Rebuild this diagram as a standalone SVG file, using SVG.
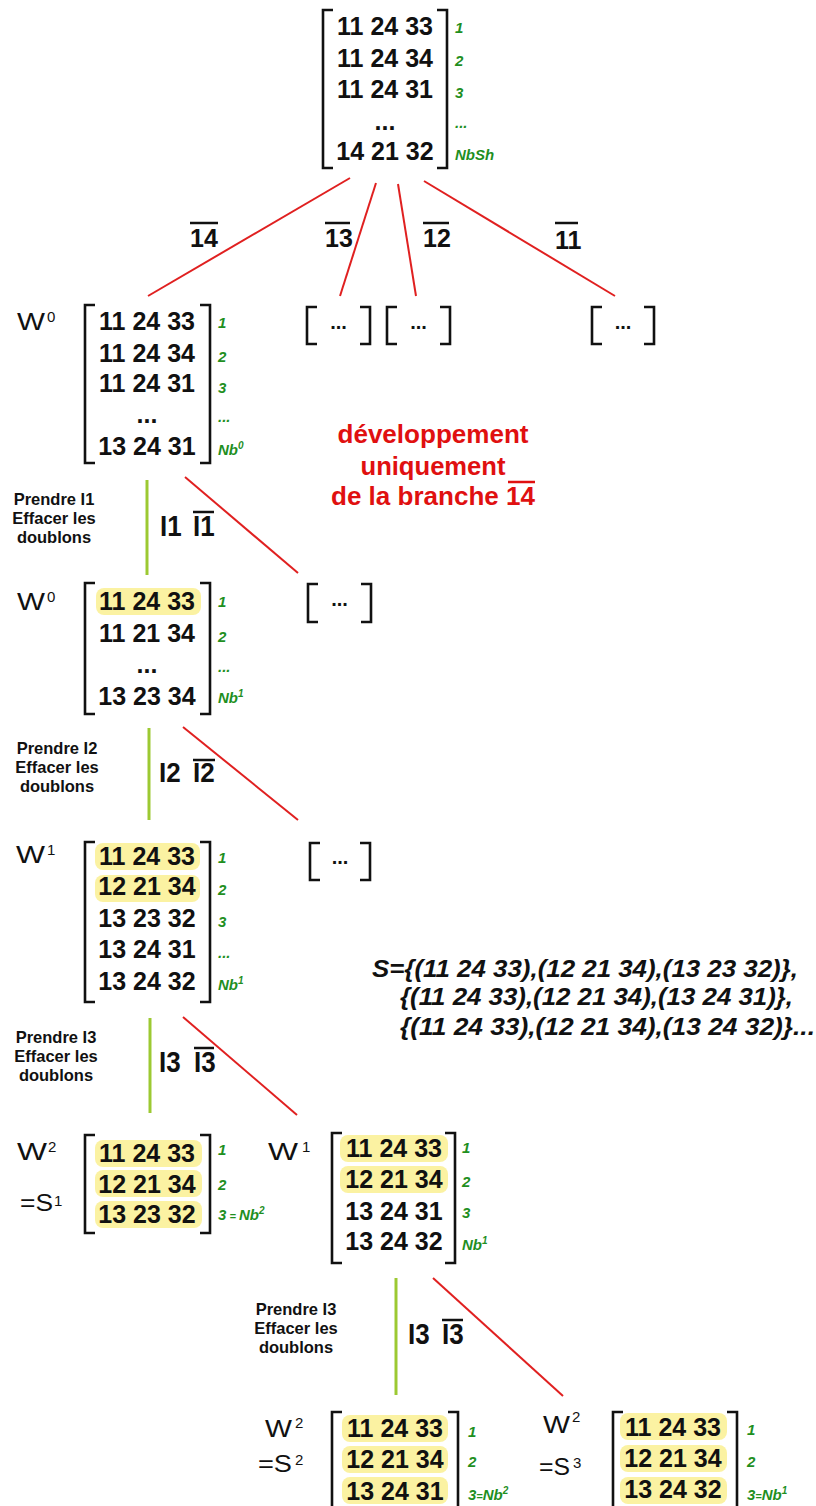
<svg xmlns="http://www.w3.org/2000/svg" width="816" height="1506" viewBox="0 0 816 1506">
<style>
.bg{fill:#fff}
.br{fill:none;stroke:#111;stroke-width:2.6}
.row{font-family:"Liberation Sans",Arial,sans-serif;font-weight:bold;font-size:25px;fill:#111;text-anchor:middle}
.gl{font-family:"Liberation Sans",Arial,sans-serif;font-weight:bold;font-style:italic;font-size:15px;fill:#1f8f1f}
.gs{font-size:10px}
.ge{font-size:11px}
.hl{fill:#fbf2a2}
.w{font-family:"Liberation Sans",Arial,sans-serif;font-size:23px;fill:#111}
.sup{font-family:"Liberation Sans",Arial,sans-serif;font-size:15px;fill:#111}
.pr{font-family:"Liberation Sans",Arial,sans-serif;font-weight:bold;font-size:16.5px;fill:#111;text-anchor:middle}
.op{font-family:"Liberation Sans",Arial,sans-serif;font-weight:bold;font-size:26px;fill:#111}
.lb{font-family:"Liberation Sans",Arial,sans-serif;font-weight:bold;font-size:25px;fill:#111}
.ov{stroke:#111;stroke-width:2.5}
.red{font-family:"Liberation Sans",Arial,sans-serif;font-weight:bold;font-size:25px;fill:#e01010;text-anchor:middle}
.st{font-family:"Liberation Sans",Arial,sans-serif;font-weight:bold;font-style:italic;font-size:23px;fill:#111}
.rl{stroke:#e02020;stroke-width:2;fill:none}
.gr{stroke:#9cc932;stroke-width:3;fill:none}
.dots{font-family:"Liberation Sans",Arial,sans-serif;font-weight:bold;font-size:20px;fill:#111;text-anchor:middle}
</style>
<rect class="bg" x="0" y="0" width="816" height="1506"/>

<g id="connectors">
  <line class="rl" x1="350" y1="178" x2="148" y2="296"/>
  <line class="rl" x1="376" y1="183" x2="340" y2="296"/>
  <line class="rl" x1="398" y1="184" x2="416" y2="296"/>
  <line class="rl" x1="424" y1="181" x2="615" y2="296"/>
  <line class="gr" x1="147" y1="480" x2="147" y2="575"/>
  <line class="rl" x1="185" y1="477" x2="298" y2="573"/>
  <line class="gr" x1="149" y1="728" x2="149" y2="820"/>
  <line class="rl" x1="183" y1="727" x2="298" y2="820"/>
  <line class="gr" x1="150" y1="1018" x2="150" y2="1113"/>
  <line class="rl" x1="183" y1="1017" x2="297" y2="1115"/>
  <line class="gr" x1="396" y1="1278" x2="396" y2="1395"/>
  <line class="rl" x1="433" y1="1278" x2="563" y2="1396"/>
</g>

<g id="edge-labels">
  <text class="lb" x="190" y="247">14</text><line class="ov" x1="190" y1="223" x2="218" y2="223"/>
  <text class="lb" x="325" y="247">13</text><line class="ov" x1="325" y1="223" x2="350" y2="223"/>
  <text class="lb" x="423" y="247">12</text><line class="ov" x1="423" y1="223" x2="449" y2="223"/>
  <text class="lb" x="555" y="249">11</text><line class="ov" x1="555" y1="223" x2="578" y2="223"/>

  <text class="pr" x="54" y="505">Prendre I1</text>
  <text class="pr" x="54" y="524">Effacer les</text>
  <text class="pr" x="54" y="543">doublons</text>
  <text class="op" transform="translate(160 536) scale(1 1.12)">I1</text>
  <text class="op" transform="translate(193 536) scale(1 1.12)">I1</text>
  <line class="ov" x1="193" y1="512" x2="214" y2="512"/>

  <text class="pr" x="57" y="754">Prendre I2</text>
  <text class="pr" x="57" y="773">Effacer les</text>
  <text class="pr" x="57" y="792">doublons</text>
  <text class="op" transform="translate(159 782) scale(1 1.05)">I2</text>
  <text class="op" transform="translate(193 782) scale(1 1.05)">I2</text>
  <line class="ov" x1="193" y1="760" x2="215" y2="760"/>

  <text class="pr" x="56" y="1043">Prendre I3</text>
  <text class="pr" x="56" y="1062">Effacer les</text>
  <text class="pr" x="56" y="1081">doublons</text>
  <text class="op" transform="translate(159 1072) scale(1 1.1)">I3</text>
  <text class="op" transform="translate(194 1072) scale(1 1.1)">I3</text>
  <line class="ov" x1="194" y1="1048" x2="214" y2="1048"/>

  <text class="pr" x="296" y="1315">Prendre I3</text>
  <text class="pr" x="296" y="1334">Effacer les</text>
  <text class="pr" x="296" y="1353">doublons</text>
  <text class="op" transform="translate(408 1344) scale(1 1.15)">I3</text>
  <text class="op" transform="translate(442 1344) scale(1 1.15)">I3</text>
  <line class="ov" x1="442" y1="1320" x2="463" y2="1320"/>
</g>

<g id="m-root">
  <path class="br" d="M333 10H323V168H333M437 10H447V168H437"/>
  <text class="row" x="385" y="35">11 24 33</text>
  <text class="row" x="385" y="67">11 24 34</text>
  <text class="row" x="385" y="98">11 24 31</text>
  <text class="row" x="385" y="130">...</text>
  <text class="row" x="385" y="160">14 21 32</text>
  <text class="gl" x="455" y="33">1</text>
  <text class="gl" x="455" y="66">2</text>
  <text class="gl" x="455" y="98">3</text>
  <text class="gl" x="455" y="128">...</text>
  <text class="gl" x="455" y="160" font-size="16">NbSh</text>
</g>

<g id="m-w0a">
  <text class="w" x="17" y="330" textLength="28" lengthAdjust="spacingAndGlyphs">W</text>
  <text class="sup" x="47" y="322">0</text>
  <path class="br" d="M95 305H85V463H95M200 305H210V463H200"/>
  <text class="row" x="147" y="330">11 24 33</text>
  <text class="row" x="147" y="362">11 24 34</text>
  <text class="row" x="147" y="392">11 24 31</text>
  <text class="row" x="147" y="423">...</text>
  <text class="row" x="147" y="455">13 24 31</text>
  <text class="gl" x="218" y="328">1</text>
  <text class="gl" x="218" y="362">2</text>
  <text class="gl" x="218" y="393">3</text>
  <text class="gl" x="218" y="422">...</text>
  <text class="gl" x="218" y="455">Nb<tspan class="gs" dy="-6">0</tspan></text>
</g>

<g id="b-13">
  <path class="br" d="M317 307H307V344H317M360 307H370V344H360"/>
  <text class="dots" x="338.5" y="329">...</text>
</g>
<g id="b-12">
  <path class="br" d="M397 307H387V344H397M440 307H450V344H440"/>
  <text class="dots" x="418.5" y="329">...</text>
</g>
<g id="b-11">
  <path class="br" d="M602 307H592V344H602M644 307H654V344H644"/>
  <text class="dots" x="623" y="329">...</text>
</g>

<g id="note">
  <text class="red" x="433" y="443" textLength="191" lengthAdjust="spacingAndGlyphs">développement</text>
  <text class="red" x="433" y="475" textLength="145" lengthAdjust="spacingAndGlyphs">uniquement</text>
  <text class="red" x="433" y="505" textLength="204" lengthAdjust="spacingAndGlyphs">de la branche 14</text>
  <line x1="508" y1="482" x2="535" y2="482" stroke="#e01010" stroke-width="2.5"/>
</g>

<g id="m-w0b">
  <text class="w" x="17" y="610" textLength="28" lengthAdjust="spacingAndGlyphs">W</text>
  <text class="sup" x="47" y="602">0</text>
  <path class="br" d="M95 583H85V714H95M200 583H210V714H200"/>
  <rect class="hl" x="96" y="588" width="105" height="27" rx="8"/>
  <text class="row" x="147" y="610">11 24 33</text>
  <text class="row" x="147" y="642">11 21 34</text>
  <text class="row" x="147" y="673">...</text>
  <text class="row" x="147" y="705">13 23 34</text>
  <text class="gl" x="218" y="607">1</text>
  <text class="gl" x="218" y="642">2</text>
  <text class="gl" x="218" y="672">...</text>
  <text class="gl" x="218" y="703">Nb<tspan class="gs" dy="-6">1</tspan></text>
</g>

<g id="b-i1">
  <path class="br" d="M318 584H308V622H318M361 584H371V622H361"/>
  <text class="dots" x="339.5" y="606">...</text>
</g>

<g id="m-w1">
  <text class="w" x="16" y="863" textLength="29" lengthAdjust="spacingAndGlyphs">W</text>
  <text class="sup" x="47" y="855">1</text>
  <path class="br" d="M95 842H85V1002H95M200 842H210V1002H200"/>
  <rect class="hl" x="95" y="843" width="105" height="27" rx="8"/>
  <rect class="hl" x="95" y="875" width="105" height="27" rx="8"/>
  <text class="row" x="147" y="865">11 24 33</text>
  <text class="row" x="147" y="895">12 21 34</text>
  <text class="row" x="147" y="927">13 23 32</text>
  <text class="row" x="147" y="958">13 24 31</text>
  <text class="row" x="147" y="990">13 24 32</text>
  <text class="gl" x="218" y="863">1</text>
  <text class="gl" x="218" y="895">2</text>
  <text class="gl" x="218" y="927">3</text>
  <text class="gl" x="218" y="958">...</text>
  <text class="gl" x="218" y="990">Nb<tspan class="gs" dy="-6">1</tspan></text>
</g>

<g id="b-i2">
  <path class="br" d="M320 843H310V880H320M360 843H370V880H360"/>
  <text class="dots" x="340" y="864">...</text>
</g>

<g id="solutions">
  <text class="st" x="372" y="977" textLength="426" lengthAdjust="spacingAndGlyphs">S={(11 24 33),(12 21 34),(13 23 32)},</text>
  <text class="st" x="400" y="1005" textLength="393" lengthAdjust="spacingAndGlyphs">{(11 24 33),(12 21 34),(13 24 31)},</text>
  <text class="st" x="400" y="1035" textLength="415" lengthAdjust="spacingAndGlyphs">{(11 24 33),(12 21 34),(13 24 32)}...</text>
</g>

<g id="m-w2-s1">
  <text class="w" x="17" y="1160" textLength="30" lengthAdjust="spacingAndGlyphs">W</text>
  <text class="sup" x="48" y="1152">2</text>
  <text class="w" x="20" y="1211" textLength="33" lengthAdjust="spacingAndGlyphs">=S</text>
  <text class="sup" x="54" y="1206">1</text>
  <path class="br" d="M95 1135H85V1233H95M200 1135H210V1233H200"/>
  <rect class="hl" x="95" y="1140" width="107" height="27" rx="8"/>
  <rect class="hl" x="95" y="1170" width="107" height="27" rx="8"/>
  <rect class="hl" x="95" y="1201" width="107" height="27" rx="8"/>
  <text class="row" x="147" y="1162">11 24 33</text>
  <text class="row" x="147" y="1193">12 21 34</text>
  <text class="row" x="147" y="1223">13 23 32</text>
  <text class="gl" x="218" y="1155">1</text>
  <text class="gl" x="218" y="1190">2</text>
  <text class="gl" x="218" y="1220">3<tspan class="ge"> = </tspan>Nb<tspan class="gs" dy="-6">2</tspan></text>
</g>

<g id="m-w1r">
  <text class="w" x="268" y="1160" textLength="30" lengthAdjust="spacingAndGlyphs">W</text>
  <text class="sup" x="302" y="1152">1</text>
  <path class="br" d="M342 1133H332V1263H342M445 1133H455V1263H445"/>
  <rect class="hl" x="340" y="1135" width="108" height="27" rx="8"/>
  <rect class="hl" x="340" y="1166" width="108" height="27" rx="8"/>
  <text class="row" x="394" y="1157">11 24 33</text>
  <text class="row" x="394" y="1188">12 21 34</text>
  <text class="row" x="394" y="1220">13 24 31</text>
  <text class="row" x="394" y="1250">13 24 32</text>
  <text class="gl" x="462" y="1153">1</text>
  <text class="gl" x="462" y="1187">2</text>
  <text class="gl" x="462" y="1218">3</text>
  <text class="gl" x="462" y="1250">Nb<tspan class="gs" dy="-6">1</tspan></text>
</g>

<g id="m-w2-s2">
  <text class="w" x="265" y="1437" textLength="27" lengthAdjust="spacingAndGlyphs">W</text>
  <text class="sup" x="295" y="1428">2</text>
  <text class="w" x="258" y="1472" textLength="34" lengthAdjust="spacingAndGlyphs">=S</text>
  <text class="sup" x="295" y="1465">2</text>
  <path class="br" d="M342 1412H332V1512H342M448 1412H458V1512H448"/>
  <rect class="hl" x="342" y="1415" width="106" height="27" rx="8"/>
  <rect class="hl" x="342" y="1446" width="106" height="27" rx="8"/>
  <rect class="hl" x="342" y="1477" width="106" height="27" rx="8"/>
  <text class="row" x="395" y="1437">11 24 33</text>
  <text class="row" x="395" y="1468">12 21 34</text>
  <text class="row" x="395" y="1500">13 24 31</text>
  <text class="gl" x="468" y="1437">1</text>
  <text class="gl" x="468" y="1467">2</text>
  <text class="gl" x="468" y="1500">3<tspan class="ge">=</tspan>Nb<tspan class="gs" dy="-6">2</tspan></text>
</g>

<g id="m-w2-s3">
  <text class="w" x="543" y="1433" textLength="27" lengthAdjust="spacingAndGlyphs">W</text>
  <text class="sup" x="572" y="1422">2</text>
  <text class="w" x="539" y="1475" textLength="31" lengthAdjust="spacingAndGlyphs">=S</text>
  <text class="sup" x="573" y="1468">3</text>
  <path class="br" d="M623 1412H613V1512H623M727 1412H737V1512H727"/>
  <rect class="hl" x="620" y="1413" width="107" height="27" rx="8"/>
  <rect class="hl" x="620" y="1445" width="107" height="27" rx="8"/>
  <rect class="hl" x="620" y="1477" width="107" height="27" rx="8"/>
  <text class="row" x="673" y="1436">11 24 33</text>
  <text class="row" x="673" y="1467">12 21 34</text>
  <text class="row" x="673" y="1498">13 24 32</text>
  <text class="gl" x="747" y="1435">1</text>
  <text class="gl" x="747" y="1467">2</text>
  <text class="gl" x="747" y="1500">3<tspan class="ge">=</tspan>Nb<tspan class="gs" dy="-6">1</tspan></text>
</g>
</svg>
